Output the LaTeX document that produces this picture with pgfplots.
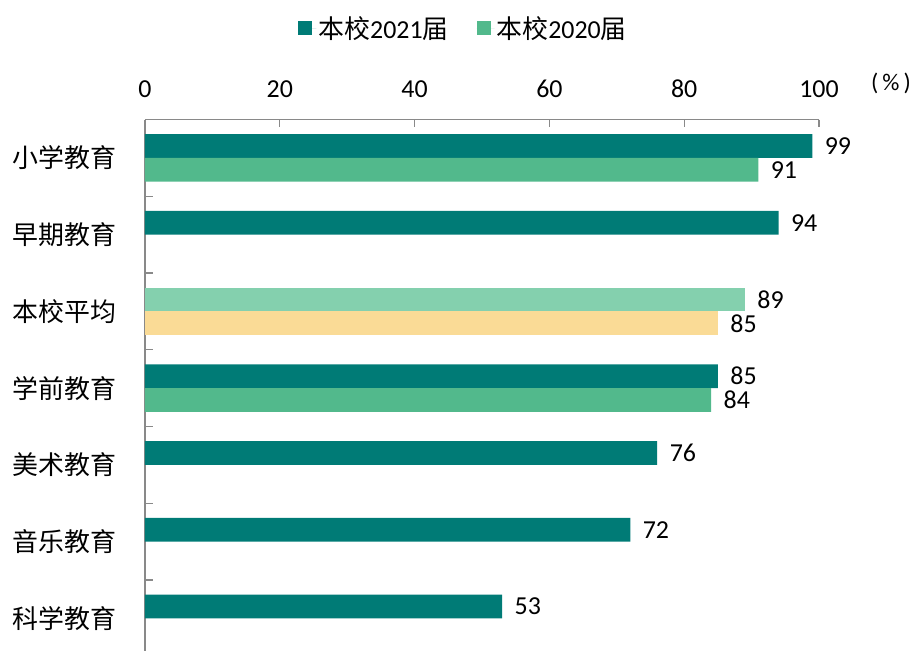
\documentclass[border=0pt]{standalone}
\usepackage{fontspec}
\setmainfont{Carlito}
\newfontfamily\cjk{Noto Sans CJK SC}
\usepackage{pgfplots}
\pgfplotsset{compat=1.18}
\definecolor{teal21}{RGB}{0,123,118}
\definecolor{green20}{RGB}{82,185,140}
\definecolor{lgreen}{RGB}{132,208,174}
\definecolor{yel}{RGB}{250,219,150}
\definecolor{axgray}{RGB}{137,137,137}
\begin{document}
\begin{tikzpicture}
\useasboundingbox (-145bp,0) rectangle (769bp,651bp);
\begin{axis}[
  at={(0,0)}, anchor=south west,
  scale only axis, width=674bp, height=531.5bp,
  xbar, bar width=0.31,
  xmin=0, xmax=100, ymin=-0.5, ymax=6.425,
  y dir=reverse,
  axis x line*=top, axis y line*=left,
  axis line style={axgray, line width=1.2bp},
  xtick={0,20,...,100},
  ytick={0,...,6},
  yticklabels={{\cjk 小学教育},{\cjk 早期教育},{\cjk 本校平均},{\cjk 学前教育},{\cjk 美术教育},{\cjk 音乐教育},{\cjk 科学教育}},
  minor ytick={0.5,1.5,...,5.5},
  tick align=inside,
  major tick length=7bp, minor tick length=8bp,
  major x tick style={axgray, line width=1.2bp},
  major y tick style={draw=none},
  minor y tick style={axgray, line width=1.2bp},
  /pgf/number format/assume math mode=true,
  tick label style={font=\fontsize{26}{30}\selectfont, black},
  xticklabel style={yshift=18bp},
  yticklabel style={xshift=-25bp},
  nodes near coords,
  nodes near coords style={font=\fontsize{26}{30}\selectfont, black, xshift=9bp},
  legend style={at={(0.4726,1.172)}, anchor=center, draw=none, fill=none,
    legend columns=2, font=\fontsize{26}{30}\selectfont,
    /tikz/every even column/.append style={column sep=26bp}},
  legend image code/.code={\fill[#1] (0bp,-7bp) rectangle (14bp,7bp); \path (0bp,0bp) -- (18bp,0bp);},
  clip=false,
]
\addplot[fill=teal21, draw=none, bar shift=0pt] coordinates {(99,-0.155) (94,0.845) (85,2.845) (76,3.845) (72,4.845) (53,5.845)};
\addlegendentry{{\cjk 本校}2021{\cjk 届}}
\addplot[fill=green20, draw=none, bar shift=0pt] coordinates {(91,0.155) (84,3.155)};
\addlegendentry{{\cjk 本校}2020{\cjk 届}}
\addplot[fill=lgreen, draw=none, bar shift=0pt, forget plot] coordinates {(89,1.845)};
\addplot[fill=yel, draw=none, bar shift=0pt, forget plot] coordinates {(85,2.155)};
\node[font=\fontsize{24}{28}\selectfont, black, anchor=east, inner sep=0pt] at (axis description cs:1,1) [xshift=92bp, yshift=36bp] {(\kern4bp\%\kern4bp)};
\end{axis}
\end{tikzpicture}
\end{document}
